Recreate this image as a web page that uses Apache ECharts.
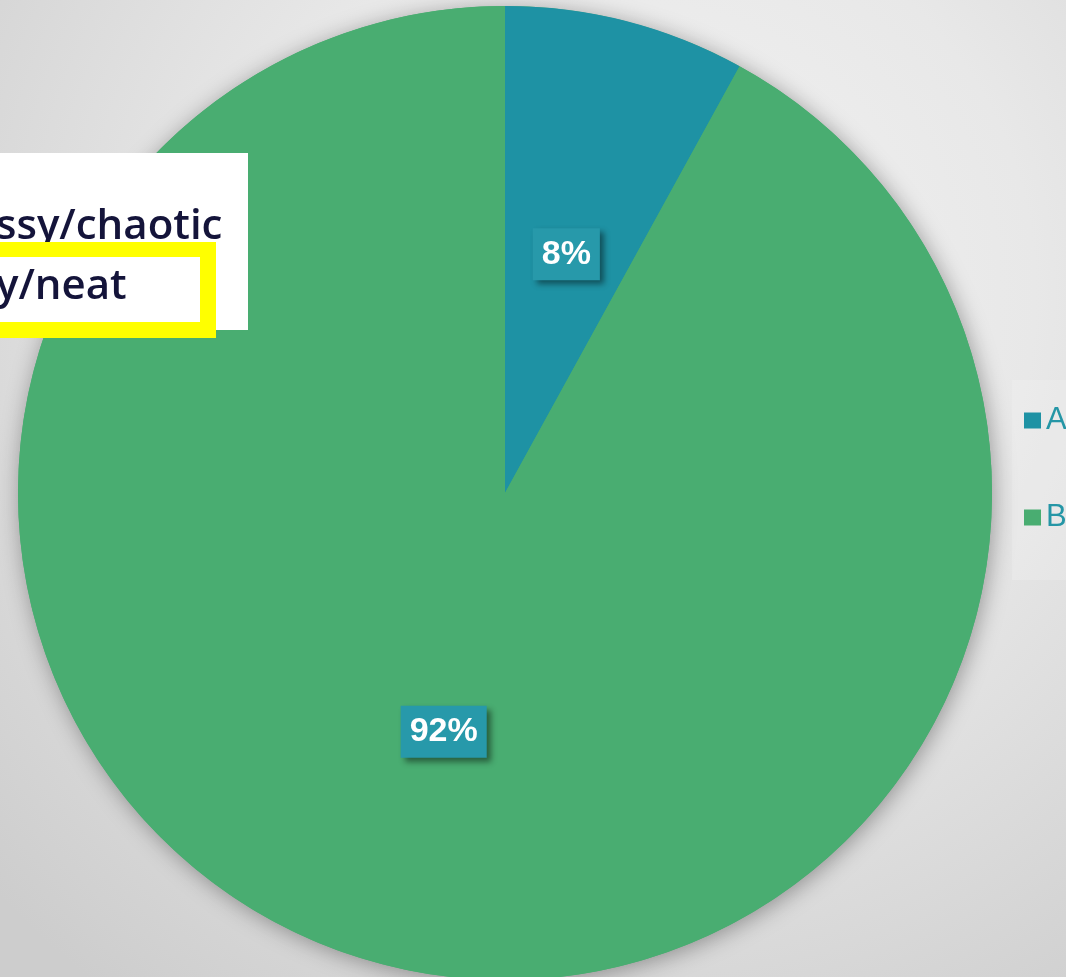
<!DOCTYPE html>
<html>
<head>
<meta charset="utf-8">
<script src="https://cdn.jsdelivr.net/npm/echarts@6/dist/echarts.min.js"></script>
<style>
  html, body { margin: 0; padding: 0; }
  #chart { width: 1066px; height: 977px; }
</style>
</head>
<body>
<div id="chart"></div>
<script>
// Data
const categories = ['A', 'B'];
const values = [8, 92];
const colors = ['#1e92a4', '#49ad71'];
// Text visible in the pasted note (top left)
const noteLines = ['ssy/chaotic', 'y/neat'];

const chart = echarts.init(document.getElementById('chart'));

const labelBox = {
    show: true,
    position: 'inside',
    formatter: '{d}%',
    color: '#ffffff',
    fontFamily: 'Liberation Sans, Arial, sans-serif',
    fontWeight: 'bold',
    fontSize: 34,
    backgroundColor: '#2799aa',
    padding: [10, 9, 8, 9],
    shadowColor: 'rgba(0,0,0,0.45)',
    shadowBlur: 6,
    shadowOffsetX: 4,
    shadowOffsetY: 4
};

const pieData = categories.map((c, i) => ({ name: c, value: values[i] }));

const option = {
    backgroundColor: new echarts.graphic.RadialGradient(0.6, 0.3, 0.9, [
        { offset: 0, color: '#f3f3f3' },
        { offset: 0.45, color: '#e8e8e8' },
        { offset: 1, color: '#cdcdcd' }
    ]),
    animation: false,
    color: colors,
    legend: {
        orient: 'vertical',
        left: 1024,
        top: 405,
        padding: 0,
        itemWidth: 17,
        itemHeight: 16,
        itemGap: 66,
        icon: 'rect',
        textStyle: {
            color: '#2596a6',
            fontSize: 31,
            fontFamily: 'Liberation Sans, Arial, sans-serif'
        },
        data: categories
    },
    graphic: [
        // faint legend panel
        {
            type: 'rect', left: 1012, top: 380, z: 0,
            shape: { width: 60, height: 200 },
            style: { fill: 'rgba(255,255,255,0.15)' }
        },
        // pasted note
        {
            type: 'rect', left: 0, top: 153, z: 100,
            shape: { width: 248, height: 177 },
            style: { fill: '#ffffff' }
        },
        {
            type: 'text', left: -4, top: 206, z: 101,
            style: {
                text: noteLines[0], fill: '#14143a',
                font: '600 42px "Open Sans", sans-serif'
            }
        },
        {
            type: 'rect', left: -10, top: 242, z: 102,
            shape: { width: 226, height: 96 },
            style: { fill: '#ffffff' }
        },
        {
            type: 'rect', left: -10, top: 242, z: 103,
            shape: { width: 226, height: 15 },
            style: { fill: '#ffff00' }
        },
        {
            type: 'rect', left: -10, top: 322, z: 103,
            shape: { width: 226, height: 16 },
            style: { fill: '#ffff00' }
        },
        {
            type: 'rect', left: 200, top: 242, z: 103,
            shape: { width: 16, height: 96 },
            style: { fill: '#ffff00' }
        },
        {
            type: 'text', left: -4, top: 266, z: 104,
            style: {
                text: noteLines[1], fill: '#14143a',
                font: '600 42px "Open Sans", sans-serif'
            }
        }
    ],
    series: [
        // shadow disc under the pie
        {
            type: 'pie',
            center: [505, 493],
            radius: 487,
            silent: true,
            z: 1,
            label: { show: false },
            labelLine: { show: false },
            itemStyle: {
                color: '#49ad71',
                shadowColor: 'rgba(0,0,0,0.35)',
                shadowBlur: 22,
                shadowOffsetX: 2,
                shadowOffsetY: 3
            },
            data: [{ name: '', value: 1 }]
        },
        {
            type: 'pie',
            center: [505, 493],
            radius: 487,
            startAngle: 90,
            clockwise: true,
            silent: true,
            z: 2,
            labelLine: { show: false },
            label: labelBox,
            data: pieData
        }
    ]
};

chart.setOption(option);
</script>
</body>
</html>
